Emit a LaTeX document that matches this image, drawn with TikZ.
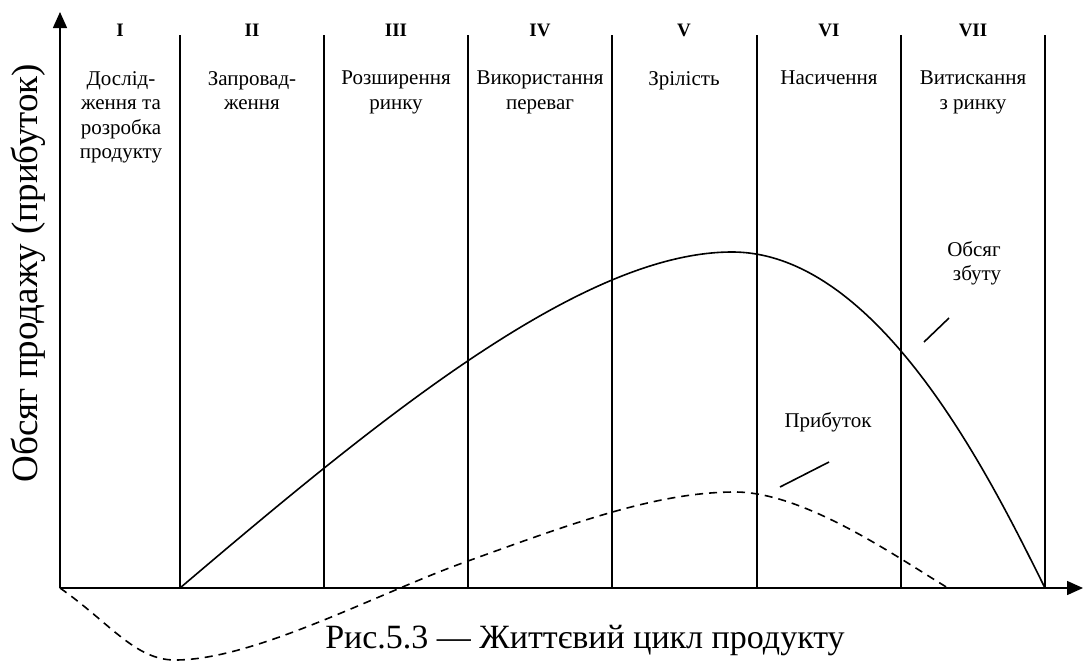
\documentclass[tikz,border=0pt]{standalone}
\usepackage{fontspec}
\setmainfont{Liberation Serif}
\usepackage{tikz}
\usetikzlibrary{arrows.meta,positioning}

\begin{document}
\begin{tikzpicture}[
        x=1pt, y=-1pt,
        stage/.style={
            anchor=north,
            inner sep=0pt,
            align=center,
            font=\fontsize{21}{24.5}\selectfont
        },
        numeral/.style={
            inner sep=0pt,
            font=\fontsize{19}{22}\selectfont\bfseries
        },
        axis/.style={-{Triangle[length=16pt,width=14pt]},line width=1.5pt},
        divider/.style={line width=1.5pt},
        sales/.style={line width=1.6pt},
        profit/.style={line width=1.6pt,dash pattern=on 8pt off 6pt},
        leader/.style={line width=1.6pt}
    ]
        \useasboundingbox (0,0) rectangle (1083,662);

        % axes
        \coordinate (origin) at (60,588);
        \coordinate (ytop) at (60,12);
        \coordinate (xend) at (1083,588);
        \draw[axis] (origin) -- (ytop);
        \draw[axis] (origin) -- (xend);

        % stage boundaries
        \draw[divider] (180,35) -- (180,588);
        \draw[divider] (324,35) -- (324,588);
        \draw[divider] (468,35) -- (468,588);
        \draw[divider] (612,35) -- (612,588);
        \draw[divider] (757,35) -- (757,588);
        \draw[divider] (901,35) -- (901,588);
        \draw[divider] (1045,35) -- (1045,588);

        % stage numbers
        \node[numeral] (n1) at (120,30) {I};
        \node[numeral] (n2) at (252,30) {II};
        \node[numeral] (n3) at (396,30) {III};
        \node[numeral] (n4) at (540,30) {IV};
        \node[numeral] (n5) at (684,30) {V};
        \node[numeral] (n6) at (829,30) {VI};
        \node[numeral] (n7) at (973,30) {VII};

        % stage names
        \node[stage] (research) at (121,71) {Дослід-\\ження та\\розробка\\продукту};
        \node[stage] (intro) at (252,71) {Запровад-\\ження};
        \node[stage] (growth) at (396,71) {Розширення\\ринку};
        \node[stage] (advantage) at (540,71) {Використання\\переваг};
        \node[stage] (maturity) at (684,71) {Зрілість};
        \node[stage] (saturation) at (829,71) {Насичення};
        \node[stage] (decline) at (973,71) {Витискання\\з ринку};

        % curves
        \coordinate (salesstart) at (180,588);
        \coordinate (salespeak) at (732,252);
        \coordinate (salesend) at (1045,588);
        \draw[sales] (salesstart) .. controls (380,418) and (582,252) .. (salespeak)
            .. controls (882,252) and (995,488) .. (salesend);
        \coordinate (profitstart) at (60,588);
        \coordinate (profitlow) at (175,660);
        \coordinate (profitmid) at (468,561);
        \coordinate (profitpeak) at (735,492);
        \coordinate (profitend) at (948,588);
        \draw[profit] (profitstart) .. controls (110,623) and (135,660) .. (profitlow)
            .. controls (255,660) and (378,593) .. (profitmid)
            .. controls (568,525) and (655,492) .. (profitpeak)
            .. controls (805,492) and (898,558) .. (profitend);

        % curve labels
        \node[stage, anchor=center] (saleslabel) at (974,263) {Обсяг\\\hspace*{6pt}збуту};
        \node[stage, anchor=center] (profitlabel) at (828,422) {Прибуток};
        \coordinate (salesA) at (924,342);
        \coordinate (salesB) at (949,318);
        \coordinate (profitA) at (780,487);
        \coordinate (profitB) at (829,462);
        \draw[leader] (salesA) -- (salesB);
        \draw[leader] (profitA) -- (profitB);

        % axis title and caption
        \node[rotate=90, inner sep=0pt, font=\fontsize{37}{43}\selectfont] (ytitle) at (28,273) {Обсяг продажу (прибуток)};
        \node[inner sep=0pt, font=\fontsize{34}{40}\selectfont] (caption) at (585,641) {Рис.5.3 — Життєвий цикл продукту};
\end{tikzpicture}
\end{document}
